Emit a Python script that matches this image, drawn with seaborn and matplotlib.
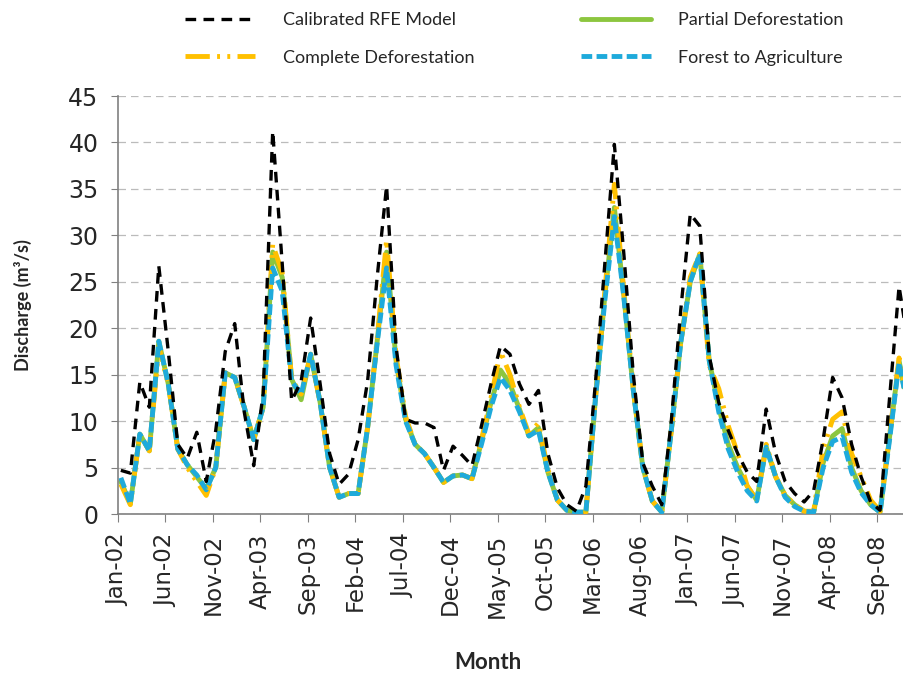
import numpy as np
import pandas as pd
import matplotlib
matplotlib.use("Agg")
import matplotlib.pyplot as plt
import seaborn as sns

# ── Data (monthly discharge, m3/s, Jan-02 .. Dec-08) ─────────────────
months = pd.date_range("2002-01-01", periods=84, freq="MS").strftime("%b-%y").tolist()

calibrated = [
    4.7, 4.4, 14.2, 11.5, 26.7, 17.5, 7.5, 6.0, 8.8, 3.5,
    9.0, 17.5, 20.5, 11.0, 5.2, 13.0, 41.2, 27.0, 12.2, 14.3,
    21.1, 14.0, 6.5, 3.2, 4.3, 8.0, 14.3, 25.4, 35.3, 18.0,
    10.2, 9.8, 9.8, 9.3, 4.7, 7.3, 6.3, 5.2, 9.5, 14.0,
    18.1, 17.2, 14.0, 11.8, 13.3, 6.5, 2.8, 1.0, 0.3, 3.0,
    14.0, 27.0, 39.8, 28.0, 15.0, 5.5, 3.0, 1.0, 10.0, 22.0,
    32.3, 31.0, 17.0, 12.0, 9.0, 6.5, 4.5, 3.5, 11.3, 6.5,
    3.5, 2.2, 1.3, 2.5, 8.0, 14.7, 12.5, 7.5, 4.0, 1.3,
    0.4, 12.5, 24.5, 18.0,
]
partial = [
    3.5, 1.1, 8.6, 6.8, 18.6, 14.0, 7.0, 5.3, 4.0, 2.7,
    5.0, 15.2, 14.7, 11.5, 8.0, 11.5, 28.2, 25.5, 14.5, 12.3,
    17.2, 12.0, 5.0, 1.8, 2.2, 2.2, 9.3, 18.5, 28.2, 16.5,
    10.2, 7.5, 6.5, 5.0, 3.4, 4.1, 4.2, 3.8, 7.8, 12.0,
    15.5, 14.0, 11.3, 8.4, 9.3, 4.5, 1.5, 0.4, 0.2, 0.2,
    12.3, 23.5, 33.0, 23.5, 13.3, 5.0, 1.4, 0.2, 9.0, 18.5,
    25.0, 28.0, 16.5, 11.5, 7.5, 5.0, 3.0, 1.5, 7.2, 4.0,
    2.0, 1.0, 0.3, 0.2, 5.5, 8.4, 9.2, 5.0, 2.5, 1.0,
    0.2, 8.3, 16.5, 11.0,
]
complete = [
    3.2, 1.0, 8.6, 6.8, 18.0, 14.0, 7.0, 5.0, 3.5, 2.0,
    5.0, 15.2, 14.7, 11.5, 8.0, 11.5, 29.0, 26.0, 14.5, 12.9,
    17.2, 12.0, 5.0, 1.8, 2.2, 2.2, 9.3, 18.8, 29.5, 17.0,
    10.5, 7.5, 6.5, 5.0, 3.4, 4.1, 4.2, 3.8, 8.0, 12.5,
    17.5, 15.0, 11.5, 8.6, 9.8, 4.8, 1.5, 0.4, 0.2, 0.2,
    12.5, 24.0, 35.5, 24.0, 13.5, 5.0, 1.4, 0.2, 9.0, 18.5,
    25.5, 28.0, 16.0, 13.5, 9.5, 6.5, 3.0, 1.5, 7.5, 4.0,
    2.0, 1.0, 0.3, 0.3, 7.0, 10.2, 11.0, 6.5, 4.0, 1.5,
    0.3, 8.5, 16.8, 11.5,
]
forest_agri = [
    3.9, 1.1, 8.6, 6.8, 18.6, 14.0, 7.0, 5.3, 4.2, 2.6,
    5.0, 15.2, 14.7, 11.5, 8.0, 11.5, 26.5, 24.0, 14.3, 12.9,
    17.2, 12.0, 5.0, 1.8, 2.2, 2.2, 9.3, 18.3, 26.5, 16.0,
    10.0, 7.5, 6.5, 5.0, 3.4, 4.1, 4.2, 3.8, 7.5, 11.5,
    14.7, 13.3, 11.0, 8.4, 9.0, 4.5, 1.5, 0.4, 0.2, 0.2,
    12.3, 23.0, 32.0, 23.3, 13.3, 5.0, 1.4, 0.2, 9.0, 18.5,
    25.0, 28.0, 16.5, 11.0, 7.0, 4.5, 2.5, 1.4, 7.2, 4.0,
    1.8, 0.8, 0.3, 0.2, 5.0, 7.8, 8.3, 4.5, 2.3, 1.0,
    0.2, 8.0, 16.3, 11.0,
]

tick_every = 5
tick_labels = months[::tick_every]

df = pd.DataFrame({
    "month": months,
    "pos": np.arange(len(months)) + 0.3,
    "Calibrated RFE Model": calibrated,
    "Partial Deforestation": partial,
    "Complete Deforestation": complete,
    "Forest to Agriculture": forest_agri,
})

# ── Styles ───────────────────────────────────────────────────────────
styles = {
    "Partial Deforestation": dict(color="#8CC63F", lw=3.5, ls="-", z=2),
    "Complete Deforestation": dict(color="#FFC000", lw=3.5, ls=(0, (5, 1.5, 0.6, 1.5, 0.6, 1.5)), z=3),
    "Forest to Agriculture": dict(color="#1EAADB", lw=3.5, ls=(0, (2.2, 0.9)), z=4),
    "Calibrated RFE Model": dict(color="black", lw=2.4, ls=(0, (3.2, 2.2)), z=5),
}

sns.set_style("white")
fig = plt.figure(figsize=(9.04, 6.75), dpi=100)
ax = fig.add_axes([118 / 904, 161 / 675, 786 / 904, 418 / 675])

for name, st in styles.items():
    sns.lineplot(data=df, x="pos", y=name, ax=ax, color=st["color"], lw=st["lw"],
                 linestyle=st["ls"], zorder=st["z"], label=name, legend=False)

# ── Axes ─────────────────────────────────────────────────────────────
ax.set_xlim(0, 82.82)
ax.set_ylim(0, 45)
ax.set_yticks(np.arange(0, 46, 5))
ax.set_xticks(np.arange(0, len(months), tick_every))
ax.set_xticklabels(tick_labels, rotation=90, fontsize=16.5, family="DejaVu Sans")
ax.tick_params(axis="y", labelsize=17, length=5, pad=9, color="#808080", direction="out", left=True)
ax.tick_params(axis="x", length=6, pad=8, color="#808080", direction="out", bottom=True)
ax.yaxis.grid(True, color="#BBBBBB", lw=0.9, ls=(0, (6, 4)))
ax.set_axisbelow(True)
for s in ["top", "right"]:
    ax.spines[s].set_visible(False)
for s in ["left", "bottom"]:
    ax.spines[s].set_color("#808080")
    ax.spines[s].set_linewidth(1.2)

ax.set_ylabel("Discharge (m³/s)", fontsize=13, fontweight="bold", family="Lato")
ax.yaxis.set_label_coords(-0.11, 0.5)
ax.set_xlabel("Month", fontsize=16, fontweight="bold", family="Lato")
ax.xaxis.set_label_coords(0.47, -0.33)

# ── Legend (row order: Calibrated, Partial / Complete, Forest) ───────
handles, labels = ax.get_legend_handles_labels()
order = ["Calibrated RFE Model", "Complete Deforestation", "Partial Deforestation", "Forest to Agriculture"]
hmap = dict(zip(labels, handles))
fig.legend([hmap[k] for k in order], order, loc="upper left", ncol=2,
           bbox_to_anchor=(176 / 904, 1 - 3 / 675), frameon=False, borderpad=0,
           handlelength=3.9, handletextpad=1.5, columnspacing=5.9, labelspacing=1.2,
           prop={"family": "Lato", "size": 13})

fig.savefig("out.png", dpi=100)
